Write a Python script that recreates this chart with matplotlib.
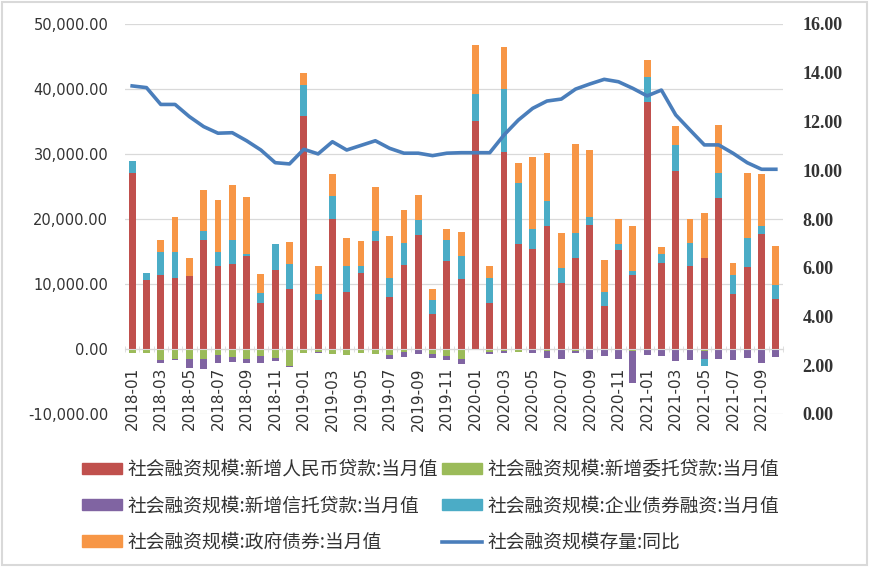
#!/usr/bin/env python3
"""Social financing: monthly flows (stacked bars) and stock growth (line)."""
import matplotlib

matplotlib.use("Agg")
import matplotlib.pyplot as plt
from matplotlib.lines import Line2D
from matplotlib.patches import Patch, Rectangle
from matplotlib.ticker import FuncFormatter, FixedLocator
import numpy as np

plt.rcParams["font.family"] = ["Noto Sans CJK SC", "DejaVu Sans"]

months = [f"{y}-{m:02d}" for y in range(2018, 2022) for m in range(1, 13)][:46]

# 新增人民币贷款
rmb_loans = [27040, 10560, 11330, 10920, 11230, 16740, 12770, 13030, 14270, 7060, 12100, 9270,
             35790, 7570, 19980, 8760, 11690, 16630, 7980, 12880, 17560, 5410, 13540, 10710,
             35070, 7060, 30280, 16120, 15450, 18950, 10150, 14060, 19110, 6590, 15240, 11330,
             38010, 13290, 27450, 12770, 14060, 23180, 8390, 12620, 17660, 7620]
# 新增委托贷款
entrusted = [-670, -570, -1700, -1600, -1500, -1500, -980, -1240, -1500, -1080, -1390, -2630,
             -570, -460, -820, -980, -570, -820, -980, -460, -100, -820, -1080, -1500,
             -100, -460, -310, -460, -100, -310, -100, -310, -100, -100, -100, -300,
             -100, -100, -100, -100, -300, -100, -100, -100, -100, -100]
# 新增信托贷款
trust = [0, 0, -520, -100, -1390, -1650, -1130, -720, -720, -1130, -520, -150,
         0, -100, 0, 0, 0, 0, -620, -720, -670, -520, -620, -880,
         0, -360, -360, 0, -460, -1030, -1500, -360, -1500, -930, -1500, -5000,
         -770, -930, -1800, -1550, -1300, -1450, -1650, -1300, -2060, -1130]
# 企业债券融资
corp_bonds = [1860, 1080, 3550, 4070, 0, 1340, 2220, 3710, 300, 1590, 4070, 3860,
              4790, 930, 3610, 4010, 1030, 1450, 2990, 3500, 2320, 2060, 3250, 3610,
              4120, 3910, 9790, 9370, 2940, 3760, 2360, 3710, 1230, 2220, 880, 670,
              3860, 1390, 3860, 3610, -1000, 3860, 2990, 4530, 1290, 2220]
# 政府债券
gov_bonds = [0, 0, 1910, 5250, 2830, 6430, 7980, 8440, 8760, 2940, 0, 3400,
             1910, 4270, 3340, 4330, 3910, 6900, 6440, 5040, 3860, 1800, 1650, 3710,
             7570, 1800, 6330, 3200, 11220, 7420, 5410, 13800, 10200, 4840, 3860, 6950,
             2570, 1030, 2940, 3600, 6800, 7360, 1910, 9890, 7980, 6020]
# 社会融资规模存量:同比
stock_yoy = [13.46, 13.39, 12.70, 12.70, 12.20, 11.79, 11.52, 11.54, 11.21, 10.83, 10.31, 10.26,
             10.86, 10.67, 11.17, 10.83, 11.02, 11.21, 10.90, 10.70, 10.70, 10.60, 10.70, 10.72,
             10.72, 10.72, 11.45, 12.06, 12.54, 12.84, 12.92, 13.33, 13.54, 13.73, 13.63, 13.36,
             13.05, 13.29, 12.27, 11.65, 11.04, 11.04, 10.70, 10.31, 10.04, 10.04]

series = [
    ("社会融资规模:新增人民币贷款:当月值", rmb_loans, "#C0504D"),
    ("社会融资规模:新增委托贷款:当月值", entrusted, "#9BBB59"),
    ("社会融资规模:新增信托贷款:当月值", trust, "#8064A2"),
    ("社会融资规模:企业债券融资:当月值", corp_bonds, "#4BACC6"),
    ("社会融资规模:政府债券:当月值", gov_bonds, "#F79646"),
]
line_label = "社会融资规模存量:同比"
line_color = "#4A7EBB"
text_color = "#333333"
grid_color = "#d9d9d9"

fig = plt.figure(figsize=(8.7, 5.67), dpi=100)
ax = fig.add_axes([125 / 870, 1 - 414 / 567, 658 / 870, 390 / 567])

x = np.arange(len(months))
pos_bottom = np.zeros(len(months))
neg_bottom = np.zeros(len(months))
for label, values, color in series:
    v = np.asarray(values, dtype=float)
    bottom = np.where(v >= 0, pos_bottom, neg_bottom)
    ax.bar(x, v, width=0.48, bottom=bottom, color=color, linewidth=0, zorder=2)
    pos_bottom += np.clip(v, 0, None)
    neg_bottom += np.clip(v, None, 0)

ax.set_xlim(-0.5, len(months) - 0.5)
ax.set_ylim(-10000, 50000)
ax.set_yticks(np.arange(-10000, 50001, 10000))
ax.yaxis.set_major_formatter(FuncFormatter(lambda v, _: f"{v:,.2f}"))
ax.yaxis.grid(True, color=grid_color, linewidth=0.9)
ax.set_axisbelow(True)
ax.tick_params(axis="y", length=0, pad=12, labelsize=10.5, labelcolor=text_color)
for lab in ax.get_yticklabels():
    lab.set_fontfamily("DejaVu Sans")

for side in ("left", "right", "top"):
    ax.spines[side].set_visible(False)
ax.spines["bottom"].set_position(("data", 0))
ax.spines["bottom"].set_color(grid_color)
ax.set_xticks(x[::2])
ax.set_xticklabels(months[::2], rotation=90, fontsize=11, color=text_color,
                   fontfamily="DejaVu Sans")
ax.xaxis.set_minor_locator(FixedLocator(np.arange(-0.5, len(months), 1)))
ax.tick_params(axis="x", which="major", length=0, pad=13)
ax.tick_params(axis="x", which="minor", length=4, direction="inout", color=grid_color)

ax2 = ax.twinx()
ax2.plot(x, stock_yoy, color=line_color, linewidth=2.6, solid_joinstyle="round", zorder=3)
ax2.set_ylim(0, 16)
ax2.set_yticks(np.arange(0, 17, 2))
ax2.yaxis.set_major_formatter(FuncFormatter(lambda v, _: f"{v:.2f}"))
ax2.tick_params(axis="y", length=0, pad=14, labelsize=13, labelcolor=text_color)
for lab in ax2.get_yticklabels():
    lab.set_fontfamily("Liberation Serif")
    lab.set_fontweight("bold")
for side in ax2.spines.values():
    side.set_visible(False)

handles = [Patch(color=c, label=l) for l, _, c in series]
handles.append(Line2D([], [], color=line_color, linewidth=2.6, label=line_label))

# two single-column legends so each column starts where the reference has it
legend_style = dict(loc="upper left", frameon=False, fontsize=13.5, handlelength=2.13,
                    handleheight=0.55, handletextpad=0.32, labelspacing=0.82,
                    borderpad=0, borderaxespad=0, labelcolor=text_color)
for x0, idx in [(82, [0, 2, 4]), (442, [1, 3, 5])]:
    fig.legend([handles[i] for i in idx], [handles[i].get_label() for i in idx],
               bbox_to_anchor=(x0 / 870, 1 - 459 / 567), **legend_style)

fig.patches.append(Rectangle((0.002, 0.003), 0.995, 0.994, transform=fig.transFigure,
                             fill=False, edgecolor=grid_color, linewidth=1.5))

fig.savefig("out.png", dpi=100)
